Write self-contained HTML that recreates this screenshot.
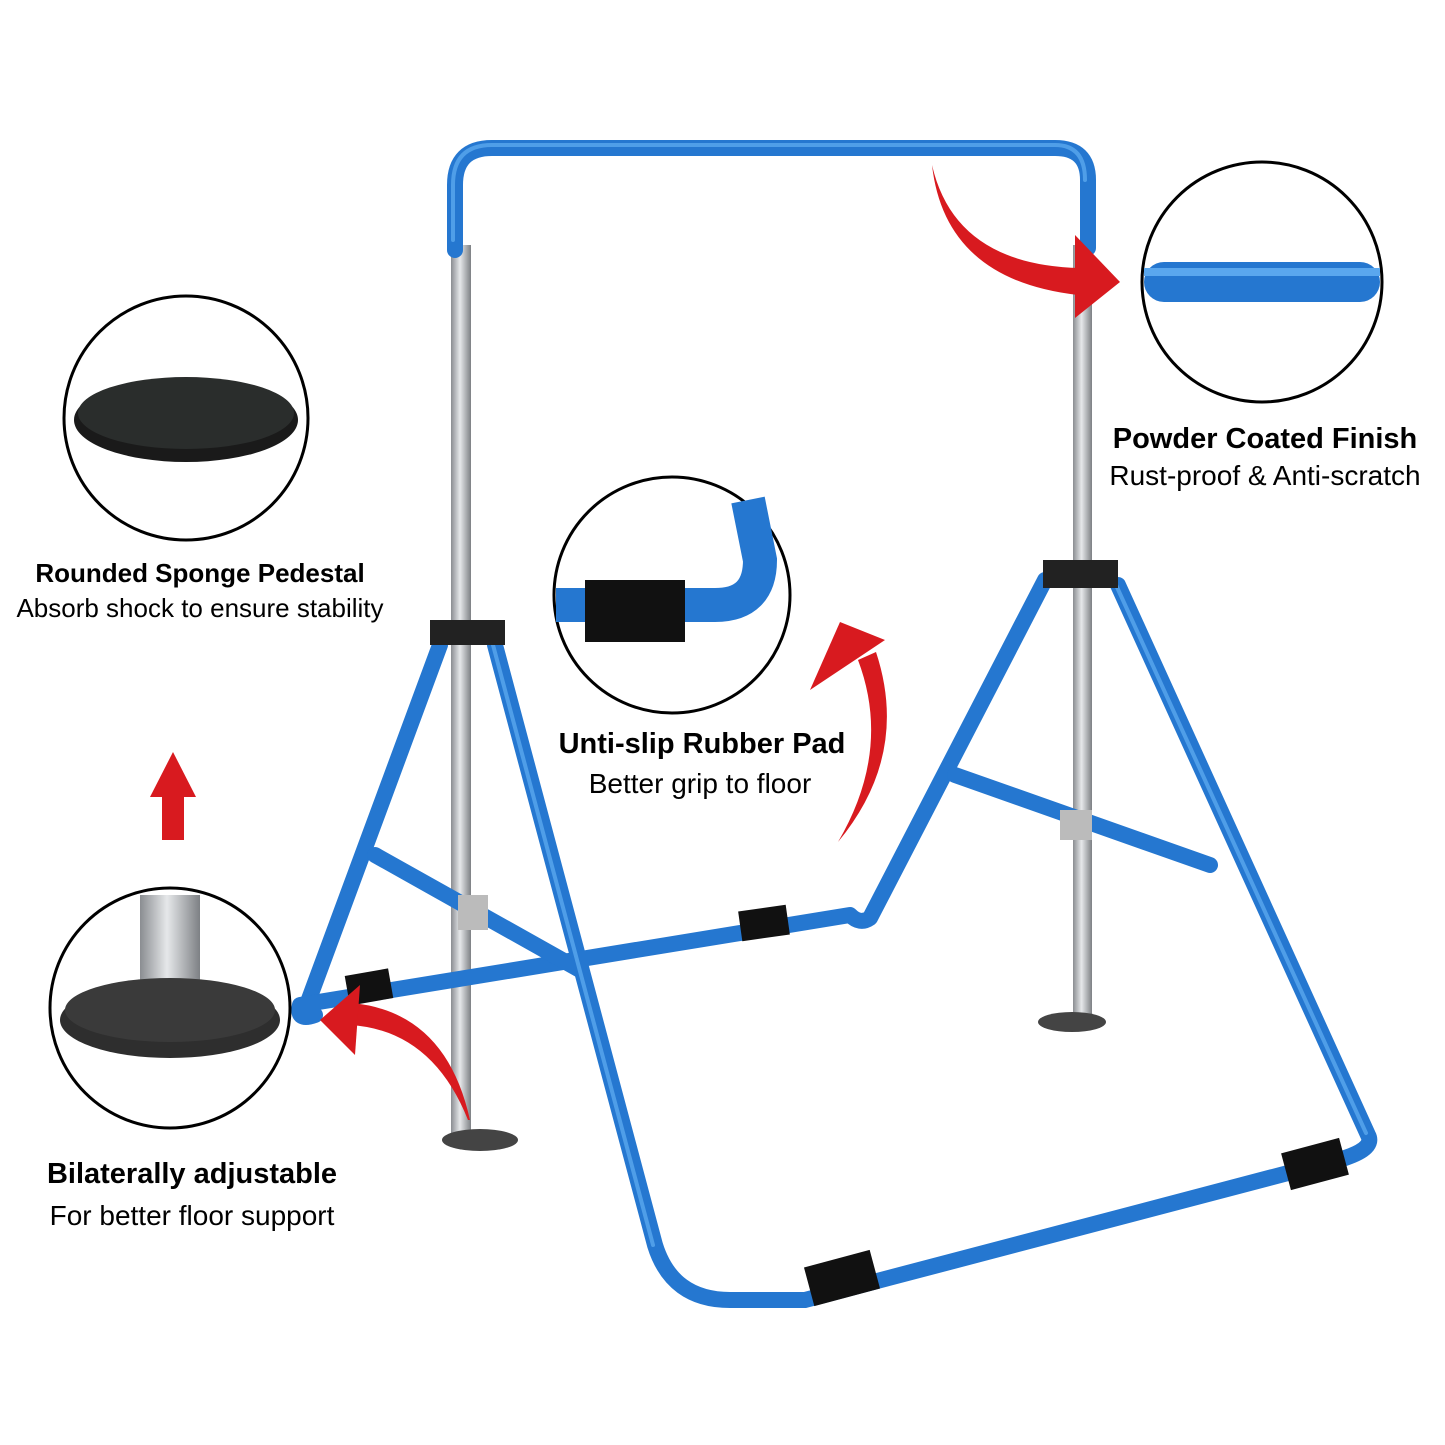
<!DOCTYPE html>
<html><head><meta charset="utf-8"><style>
html,body{margin:0;padding:0;background:#fff;}
svg{display:block}
text{font-family:"Liberation Sans","DejaVu Sans",sans-serif;}
</style></head><body>
<svg width="1445" height="1445" viewBox="0 0 1445 1445" xmlns="http://www.w3.org/2000/svg">
<defs>
<linearGradient id="silver" x1="0" x2="1" y1="0" y2="0">
<stop offset="0" stop-color="#8a8d91"/><stop offset="0.45" stop-color="#e6e8ea"/><stop offset="1" stop-color="#7d8084"/>
</linearGradient>
</defs>
<rect width="1445" height="1445" fill="#fff"/>
<rect x="451" y="245" width="20" height="890" fill="url(#silver)"/>
<rect x="1073" y="245" width="19" height="775" fill="url(#silver)"/>
<ellipse cx="480" cy="1140" rx="38" ry="11" fill="#444"/>
<ellipse cx="1072" cy="1022" rx="34" ry="10" fill="#444"/>
<g fill="none" stroke-linecap="round" stroke-linejoin="round">
<g stroke="#2577d0" stroke-width="16">
<path d="M455 250 L455 185 Q455 148 492 148 L1055 148 Q1088 148 1088 180 L1088 248"/>
<path d="M440 645 L305 1010"/>
<path d="M495 645 L655 1245 Q672 1300 730 1300 L805 1300 L1345 1158 Q1375 1148 1368 1135 L1118 585"/>
<path d="M1045 580 L870 918 Q860 925 850 915 L300 1005 Q296 1022 315 1015"/>
<path d="M375 855 L580 970"/>
<path d="M955 775 L1210 865"/>
</g>
<g stroke="#5aa7ee" stroke-width="4" opacity="0.8">
<path d="M453 240 L453 185 Q453 145 492 145 L1055 145 Q1085 145 1085 180"/>
<path d="M493 645 L653 1245"/>
<path d="M1116 585 L1366 1133"/>
</g>
</g>
<rect x="430" y="620" width="75" height="25" fill="#222"/>
<rect x="1043" y="560" width="75" height="28" fill="#222"/>
<g fill="#111">
<rect x="740" y="908" width="48" height="30" transform="rotate(-8 764 923)"/>
<rect x="347" y="972" width="44" height="30" transform="rotate(-10 369 987)"/>
<rect x="808" y="1258" width="68" height="40" transform="rotate(-15 842 1278)"/>
<rect x="1285" y="1145" width="60" height="38" transform="rotate(-15 1315 1164)"/>
</g>
<rect x="458" y="895" width="30" height="35" fill="#bbb"/>
<rect x="1060" y="810" width="32" height="30" fill="#bbb"/>
<g fill="#fff" stroke="#000" stroke-width="3">
<circle cx="186" cy="418" r="122"/>
<circle cx="1262" cy="282" r="120"/>
<circle cx="672" cy="595" r="118"/>
<circle cx="170" cy="1008" r="120"/>
</g>
<ellipse cx="186" cy="420" rx="112" ry="42" fill="#1a1a1a"/>
<ellipse cx="186" cy="413" rx="108" ry="36" fill="#2a2d2c"/>
<rect x="1144" y="262" width="236" height="40" rx="20" fill="#2577d0"/>
<rect x="1144" y="268" width="236" height="8" fill="#5aa7ee"/>
<path d="M556 605 L715 605 Q760 605 760 560 L748 500" fill="none" stroke="#2577d0" stroke-width="34"/>
<rect x="585" y="580" width="100" height="62" fill="#111"/>
<rect x="140" y="895" width="60" height="95" fill="url(#silver)"/>
<ellipse cx="170" cy="1020" rx="110" ry="38" fill="#2e2e2e"/>
<ellipse cx="170" cy="1010" rx="105" ry="32" fill="#3a3a3a"/>
<g fill="#d81a1f">
<rect x="162" y="795" width="22" height="45"/>
<polygon points="150,797 173,752 196,797"/>
<path d="M932 165 Q955 265 1080 268 L1078 295 Q945 280 932 165Z"/>
<polygon points="1075,235 1120,282 1075,318"/>
<path d="M838 842 Q892 750 858 660 L876 652 Q910 755 838 842Z"/>
<polygon points="810,690 840,622 885,640"/>
<path d="M468 1120 Q432 1030 350 1025 L352 1003 Q446 1012 470 1120Z"/>
<polygon points="360,985 320,1020 355,1055"/>
</g>
<g text-anchor="middle">
<text x="200" y="582" font-size="26" font-weight="bold">Rounded Sponge Pedestal</text>
<text x="200" y="617" font-size="26">Absorb shock to ensure stability</text>
<text x="1265" y="448" font-size="29" font-weight="bold">Powder Coated Finish</text>
<text x="1265" y="485" font-size="28">Rust-proof &amp; Anti-scratch</text>
<text x="702" y="753" font-size="29" font-weight="bold">Unti-slip Rubber Pad</text>
<text x="700" y="793" font-size="28">Better grip to floor</text>
<text x="192" y="1183" font-size="29" font-weight="bold">Bilaterally adjustable</text>
<text x="192" y="1225" font-size="28">For better floor support</text>
</g>
</svg>
</body></html>
